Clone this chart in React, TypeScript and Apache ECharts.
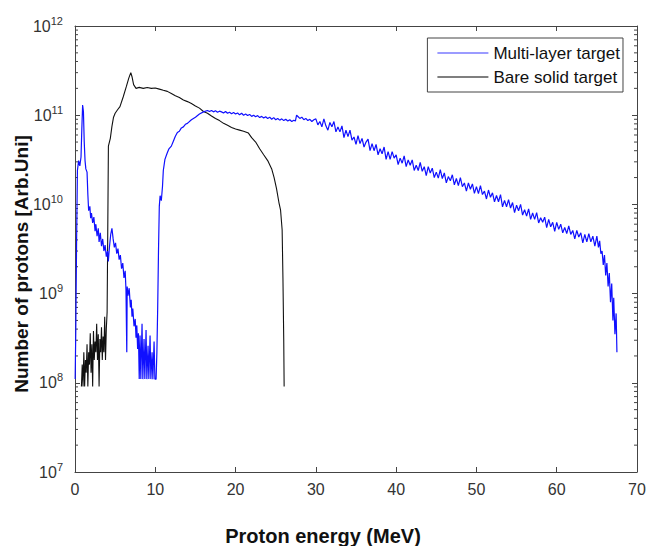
import React, { useEffect, useRef } from "react";
import * as echarts from "echarts";

const X_MIN = 0;
const X_MAX = 70;
const X_INTERVAL = 10;
const Y_MIN = 1e7;
const Y_MAX = 1e12;
const MINOR_STEPS = [2, 3, 4, 5, 6, 7, 8, 9];
const DECADES = [1e7, 1e8, 1e9, 1e10, 1e11];

const SERIES_NAMES = ["Multi-layer target", "Bare solid target"];
const X_TITLE = "Proton energy (MeV)";
const Y_TITLE = "Number of protons [Arb.Uni]";

const multiLayer: [number, number][] = [
  [0.02, 1.1e8], [0.1, 4e8], [0.2, 4e9], [0.3, 2.4e10], [0.45, 3.1e10], [0.6, 2.7e10],
  [0.75, 3.4e10], [0.85, 7e10], [0.95, 1.3e11], [1.05, 1.1e11], [1.15, 5e10], [1.25, 3.1e10],
  [1.35, 2.5e10], [1.5, 2.3e10], [1.6, 1.3e10], [1.7, 8.5e9], [1.85, 9.5e9], [1.95, 7e9],
  [2.05, 8e9], [2.2, 6.2e9], [2.35, 7.2e9], [2.5, 5e9], [2.6, 6e9], [2.75, 4.4e9],
  [2.9, 5.4e9], [3.0, 3.8e9], [3.15, 4.8e9], [3.3, 3.4e9], [3.45, 4.1e9], [3.6, 3.0e9],
  [3.75, 3.5e9], [3.9, 2.6e9], [4.05, 3.0e9], [4.15, 2.3e9], [4.3, 3.4e9], [4.45, 4.6e9],
  [4.6, 5.4e9], [4.75, 4.1e9], [4.9, 3.3e9], [5.05, 3.7e9], [5.2, 2.8e9], [5.35, 3.2e9],
  [5.5, 2.4e9], [5.65, 2.7e9], [5.8, 1.9e9], [5.95, 2.2e9], [6.1, 1.5e9], [6.25, 1.8e9],
  [6.35, 1.1e9], [6.45, 2.2e8], [6.5, 1.2e9], [6.6, 9.5e8], [6.75, 1.15e9], [6.9, 7e8],
  [7.0, 8.5e8], [7.1, 5.5e8], [7.2, 6.8e8], [7.35, 4.3e8], [7.5, 5.2e8], [7.6, 3.2e8],
  [7.7, 4.4e8], [7.8, 2.4e8], [7.9, 3.6e8], [8.0, 1.1e8], [8.1, 3.4e8], [8.2, 1.1e8],
  [8.35, 4.6e8], [8.45, 1.1e8], [8.6, 3.1e8], [8.7, 1.1e8], [8.85, 3.9e8], [8.95, 1.1e8],
  [9.1, 2.6e8], [9.2, 1.1e8], [9.35, 3.4e8], [9.45, 1.1e8], [9.6, 2.2e8], [9.7, 1.1e8],
  [9.85, 2.9e8], [9.95, 1.1e8], [10.1, 1.1e8], [10.2, 2.2e8], [10.3, 7e8], [10.4, 3e9],
  [10.5, 9.5e9], [10.6, 1.25e10], [10.75, 1.1e10], [10.9, 1.6e10], [11.0, 2.4e10], [11.2, 3.2e10],
  [11.45, 3.7e10], [11.7, 4.2e10], [12.0, 4.5e10], [12.25, 5.1e10], [12.5, 5.8e10], [12.75, 6.4e10],
  [13.0, 6.6e10], [13.25, 7.2e10], [13.5, 7.4e10], [13.75, 7.9e10], [14.0, 8.1e10], [14.5, 8.9e10],
  [15.0, 9.5e10], [15.5, 1.03e11], [16.0, 1.09e11],
  [16.5, 1.13e11], [16.75, 1.10e11], [17.0, 1.13e11], [17.25, 1.09e11], [17.5, 1.12e11], [17.75, 1.08e11],
  [18.0, 1.11e11], [18.25, 1.09e11], [18.5, 1.06e11], [18.75, 1.10e11], [19.0, 1.05e11], [19.25, 1.08e11],
  [19.5, 1.04e11], [19.75, 1.07e11], [20.0, 1.03e11], [20.25, 1.06e11], [20.5, 1.01e11], [20.75, 1.05e11],
  [21.0, 1.00e11], [21.25, 1.03e11], [21.5, 9.9e10], [21.75, 1.02e11], [22.0, 9.7e10], [22.25, 1.0e11],
  [22.5, 9.6e10], [22.75, 9.9e10], [23.0, 9.4e10], [23.25, 9.7e10], [23.5, 9.3e10], [23.75, 9.6e10],
  [24.0, 9.2e10], [24.25, 9.5e10], [24.5, 9.0e10], [24.75, 9.4e10], [25.0, 8.9e10], [25.25, 9.2e10],
  [25.5, 8.8e10], [25.75, 9.1e10], [26.0, 8.7e10], [26.25, 9.0e10], [26.5, 8.6e10], [26.75, 8.9e10],
  [27.0, 8.5e10], [27.25, 8.8e10], [27.45, 8.6e10], [27.6, 1.0e11], [27.8, 9.6e10], [28.0, 9.2e10],
  [28.25, 9.5e10], [28.5, 8.9e10], [28.75, 9.2e10], [29.0, 8.7e10], [29.25, 9.0e10], [29.5, 8.5e10],
  [29.75, 8.9e10],
  [30.0, 9.1e10], [30.25, 7.8e10], [30.5, 8.5e10], [30.75, 7.4e10], [31.0, 9.1e10], [31.25, 7.6e10],
  [31.5, 6.8e10], [31.75, 8.3e10], [32.0, 7.4e10], [32.25, 8.5e10], [32.5, 6.5e10], [32.75, 7.4e10],
  [33.0, 6.5e10], [33.25, 7.6e10], [33.5, 5.6e10], [33.75, 6.8e10], [34.0, 5.75e10], [34.25, 6.8e10],
  [34.5, 5.25e10], [34.75, 5.7e10], [35.0, 4.7e10], [35.25, 5.9e10], [35.5, 4.8e10], [35.75, 5.5e10],
  [36.0, 4.4e10], [36.25, 5.0e10], [36.5, 5.4e10], [36.75, 4.0e10], [37.0, 4.8e10], [37.25, 4.0e10],
  [37.5, 4.7e10], [37.75, 3.6e10], [38.0, 4.2e10], [38.25, 3.7e10], [38.5, 4.4e10], [38.75, 3.2e10],
  [39.0, 3.9e10], [39.25, 3.2e10], [39.5, 3.9e10], [39.75, 3.3e10], [40.0, 3.6e10], [40.25, 2.8e10],
  [40.5, 3.3e10], [40.75, 2.9e10], [41.0, 3.5e10], [41.25, 2.65e10], [41.5, 3.15e10], [41.75, 2.75e10],
  [42.0, 3.15e10], [42.25, 2.4e10], [42.5, 2.75e10], [42.75, 2.4e10], [43.0, 2.95e10], [43.25, 2.35e10],
  [43.5, 2.65e10], [43.75, 2.1e10], [44.0, 2.65e10], [44.25, 2.25e10], [44.5, 2.55e10], [44.75, 2.0e10],
  [45.0, 2.3e10], [45.25, 1.97e10], [45.5, 2.45e10], [45.75, 1.95e10], [46.0, 2.25e10], [46.25, 1.74e10],
  [46.5, 2.05e10], [46.75, 1.84e10], [47.0, 2.15e10], [47.25, 1.66e10], [47.5, 1.95e10], [47.75, 1.62e10],
  [48.0, 2.0e10], [48.25, 1.58e10], [48.5, 1.74e10], [48.75, 1.41e10], [49.0, 1.74e10], [49.25, 1.48e10],
  [49.5, 1.7e10], [49.75, 1.33e10], [50.0, 1.58e10], [50.25, 1.32e10], [50.5, 1.62e10], [50.75, 1.29e10],
  [51.0, 1.41e10], [51.25, 1.15e10], [51.5, 1.45e10], [51.75, 1.2e10], [52.0, 1.35e10], [52.25, 1.07e10],
  [52.5, 1.26e10], [52.75, 1.07e10], [53.0, 1.29e10], [53.25, 9.4e9], [53.5, 1.11e10], [53.75, 9.4e9],
  [54.0, 1.13e10], [54.25, 9.1e9], [54.5, 1.05e10], [54.75, 8.1e9], [55.0, 9.8e9], [55.25, 8.5e9],
  [55.5, 1.0e10], [55.75, 7.6e9], [56.0, 8.7e9], [56.25, 7.4e9], [56.5, 8.9e9], [56.75, 6.8e9],
  [57.0, 8.0e9], [57.25, 6.8e9], [57.5, 8.1e9], [57.75, 6.2e9], [58.0, 7.1e9], [58.25, 6.3e9],
  [58.5, 7.2e9], [58.75, 5.5e9], [59.0, 6.8e9], [59.25, 5.6e9], [59.5, 6.3e9], [59.75, 5.0e9],
  [60.0, 6.3e9], [60.25, 5.25e9], [60.5, 6.0e9], [60.75, 4.8e9], [61.0, 5.5e9], [61.25, 4.7e9],
  [61.5, 5.75e9], [61.75, 4.6e9], [62.0, 5.1e9], [62.25, 4.1e9], [62.5, 5.1e9], [62.75, 4.3e9],
  [63.0, 4.8e9], [63.25, 3.7e9], [63.5, 4.6e9], [63.75, 3.8e9], [64.0, 4.7e9], [64.25, 3.8e9],
  [64.5, 4.4e9], [64.75, 3.4e9], [65.0, 4.4e9], [65.2, 3.3e9], [65.35, 3.9e9], [65.5, 2.8e9],
  [65.65, 3.0e9], [65.8, 2.1e9], [65.95, 2.7e9], [66.1, 1.6e9], [66.25, 2.2e9], [66.4, 1.2e9],
  [66.55, 1.7e9], [66.7, 8e8], [66.85, 1.3e9], [67.0, 5e8], [67.1, 9e8], [67.25, 3.5e8],
  [67.4, 6e8], [67.5, 2.2e8],
];

const bareSolid: [number, number][] = [
  [0.8, 9.1e7], [0.9, 1.6e8], [1.0, 9.1e7], [1.1, 2.2e8], [1.2, 9.1e7], [1.3, 1.8e8],
  [1.4, 1.3e8], [1.5, 2.7e8], [1.6, 9.1e7], [1.7, 2.2e8], [1.8, 1.6e8], [1.9, 3.6e8],
  [2.0, 1.3e8], [2.1, 2.7e8], [2.2, 9.1e7], [2.3, 3.8e8], [2.4, 1.8e8], [2.5, 2.9e8],
  [2.6, 2.2e8], [2.7, 4.6e8], [2.8, 1.8e8], [2.9, 3.5e8], [3.0, 9.1e7], [3.1, 3.1e8],
  [3.2, 2.2e8], [3.3, 4.2e8], [3.4, 1.8e8], [3.5, 3.3e8], [3.6, 2.2e8], [3.7, 5.5e8],
  [3.8, 1.8e8], [3.9, 4.0e8], [4.0, 6.2e8], [4.08, 5e9], [4.16, 4.5e10], [4.4, 5.5e10],
  [4.6, 7.5e10], [4.8, 9.5e10], [5.0, 1.05e11], [5.3, 1.15e11], [5.6, 1.25e11], [6.0, 1.6e11],
  [6.4, 2.1e11], [6.7, 2.6e11], [6.95, 3.0e11], [7.1, 2.7e11], [7.3, 2.2e11], [7.6, 2.0e11],
  [8.0, 2.05e11], [8.5, 2.0e11], [9.0, 2.04e11], [9.5, 2.0e11], [10.0, 2.02e11], [10.5, 1.96e11],
  [11.0, 1.9e11], [11.5, 1.85e11], [12.0, 1.75e11], [12.5, 1.65e11], [13.0, 1.58e11], [13.5, 1.48e11],
  [14.0, 1.42e11], [14.5, 1.35e11], [15.0, 1.27e11], [15.5, 1.2e11], [16.0, 1.1e11], [16.5, 1.05e11],
  [17.0, 9.8e10], [17.5, 9.2e10], [18.0, 8.7e10], [18.5, 8.1e10], [19.0, 7.7e10], [19.5, 7.3e10],
  [20.0, 7.0e10], [20.5, 6.8e10], [21.0, 6.6e10], [21.6, 6.3e10], [22.0, 5.6e10], [22.5, 5.0e10],
  [23.0, 4.2e10], [23.5, 3.6e10], [24.0, 3.1e10], [24.5, 2.5e10], [24.8, 2.0e10], [25.1, 1.5e10],
  [25.4, 1.05e10], [25.6, 8.7e9], [25.8, 5.2e9], [25.9, 1.5e9], [26.0, 3e8], [26.05, 9.1e7],
];

const FONT = "'Liberation Sans', Arial, Helvetica, sans-serif";
const AXIS_COLOR = "#444";
const LABEL_COLOR = "#333";
const BLUE = "#1010ff";
const BLACK = "#111";

export default function App() {
  const ref = useRef<HTMLDivElement>(null);

  useEffect(() => {
    if (!ref.current) return;
    const chart = echarts.init(ref.current, undefined, { renderer: "svg" });

    const minorValues: [number, number][] = [];
    DECADES.forEach((d) => MINOR_STEPS.forEach((k) => minorValues.push([X_MIN, k * d])));

    const axisBase = {
      axisLine: { show: true, onZero: false, lineStyle: { color: AXIS_COLOR, width: 1 } },
      axisTick: { show: true, inside: true, length: 5, lineStyle: { color: AXIS_COLOR } },
      splitLine: { show: false },
    };

    const option: any = {
      animation: false,
      backgroundColor: "#fff",
      textStyle: { fontFamily: FONT },
      grid: { left: 75, right: 13, top: 26, bottom: 74, containLabel: false },
      legend: {
        data: [
          { name: SERIES_NAMES[0], icon: "rect", itemStyle: { color: "#7a7aff" } },
          { name: SERIES_NAMES[1], icon: "rect", itemStyle: { color: "#555" } },
        ],
        orient: "vertical",
        right: 27,
        top: 38,
        itemWidth: 51,
        itemHeight: 1.5,
        itemGap: 6,
        padding: [6, 3, 6, 10],
        borderColor: "#444",
        borderWidth: 1,
        backgroundColor: "#fff",
        textStyle: { fontSize: 17, color: "#111", fontFamily: FONT, lineHeight: 18 },
      },
      xAxis: [
        {
          type: "value",
          min: X_MIN,
          max: X_MAX,
          interval: X_INTERVAL,
          position: "bottom",
          ...axisBase,
          axisLabel: { fontSize: 16, color: LABEL_COLOR, margin: 9, fontFamily: FONT },
        },
        {
          type: "value",
          min: X_MIN,
          max: X_MAX,
          interval: X_INTERVAL,
          position: "top",
          ...axisBase,
          axisLabel: { show: false },
        },
      ],
      yAxis: [
        {
          type: "log",
          logBase: 10,
          min: Y_MIN,
          max: Y_MAX,
          position: "left",
          ...axisBase,
          axisLabel: {
            margin: 12,
            formatter: (v: number) => `{b|10}{s|${Math.round(Math.log10(v))}}`,
            rich: {
              b: { fontSize: 16, color: LABEL_COLOR, fontFamily: FONT },
              s: { fontSize: 11, color: LABEL_COLOR, fontFamily: FONT, verticalAlign: "bottom", padding: [0, 0, 11, 0] },
            },
          },
        },
        {
          type: "log",
          logBase: 10,
          min: Y_MIN,
          max: Y_MAX,
          position: "right",
          ...axisBase,
          axisLabel: { show: false },
        },
      ],
      graphic: [
        {
          type: "text",
          x: 323,
          y: 536,
          style: {
            text: X_TITLE, fontSize: 20, fontWeight: "bold", fill: "#111", fontFamily: FONT,
            align: "center", verticalAlign: "middle",
          },
        },
        {
          type: "text",
          x: 21,
          y: 264,
          rotation: Math.PI / 2,
          style: {
            text: Y_TITLE, fontSize: 19, fontWeight: "bold", fill: "#111", fontFamily: FONT,
            align: "center", verticalAlign: "middle",
          },
        },
      ],
      series: [
        {
          name: SERIES_NAMES[0],
          type: "line",
          data: multiLayer,
          symbol: "none",
          lineStyle: { color: BLUE, width: 1.2 },
          itemStyle: { color: BLUE },
          z: 3,
        },
        {
          name: SERIES_NAMES[1],
          type: "line",
          data: bareSolid,
          symbol: "none",
          lineStyle: { color: BLACK, width: 1.1 },
          itemStyle: { color: BLACK },
          z: 2,
        },
        {
          type: "custom",
          silent: true,
          clip: false,
          data: minorValues,
          encode: { x: 0, y: 1 },
          renderItem: (_p: any, api: any) => {
            const v = api.value(1);
            const l = api.coord([X_MIN, v]);
            const r = api.coord([X_MAX, v]);
            const st = { stroke: AXIS_COLOR, lineWidth: 1 };
            return {
              type: "group",
              children: [
                { type: "line", shape: { x1: l[0], y1: l[1], x2: l[0] + 3, y2: l[1] }, style: st },
                { type: "line", shape: { x1: r[0] - 3, y1: r[1], x2: r[0], y2: r[1] }, style: st },
              ],
            };
          },
          z: 1,
        },
      ],
    };

    chart.setOption(option);
    return () => chart.dispose();
  }, []);

  return (
    <div
      ref={ref}
      style={{ position: "fixed", left: 0, top: 0, width: 650, height: 546, background: "#fff" }}
    />
  );
}
